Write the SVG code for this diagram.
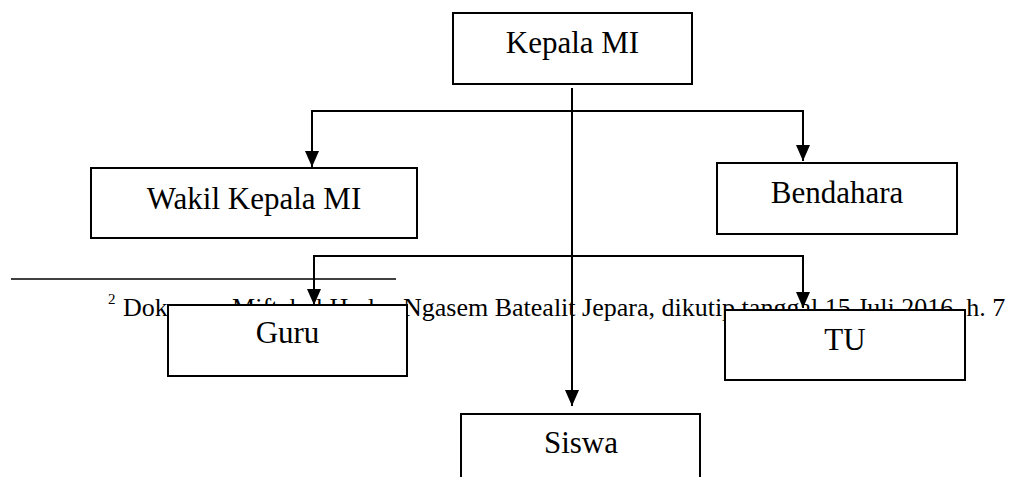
<svg xmlns="http://www.w3.org/2000/svg" width="1021" height="477" viewBox="0 0 1021 477">
<defs>
<style>
.box{fill:#fff;stroke:#000;stroke-width:2}
.lbl{font-family:"Liberation Serif","Times New Roman",serif;font-size:31px;fill:#000;text-anchor:middle}
.fn{font-family:"Liberation Serif","Times New Roman",serif;font-size:26px;fill:#000}
.ln{fill:none;stroke:#000;stroke-width:2}
</style>
<marker id="ah" viewBox="0 0 16 14" refX="16" refY="7" markerWidth="16" markerHeight="14" markerUnits="userSpaceOnUse" orient="auto-start-reverse">
<path d="M0,0 L16,7 L0,14 Z" fill="#000"/>
</marker>
</defs>
<rect width="1021" height="477" fill="#fff"/>
<g id="footnote">
<line x1="11" y1="279" x2="396" y2="279" stroke="#000" stroke-width="1.5"/>
<text class="fn" x="108" y="304" style="font-size:15px">2</text>
<text class="fn" y="316"><tspan x="123">Dokumen Miftahul Huda </tspan><tspan x="403">Ngasem Batealit Jepara, dikutip tanggal 15 Juli 2016. h. 7</tspan></text>
</g>
<g id="kepala"><rect class="box" x="453" y="13" width="239" height="71"/><text class="lbl" x="572.5" y="53">Kepala MI</text></g>
<g id="wakil"><rect class="box" x="91" y="168" width="326" height="70"/><text class="lbl" x="254" y="209">Wakil Kepala MI</text></g>
<g id="bendahara"><rect class="box" x="717" y="163" width="240" height="71"/><text class="lbl" x="837" y="203">Bendahara</text></g>
<g id="guru"><rect class="box" x="168" y="305" width="239" height="71"/><text class="lbl" x="287.5" y="343">Guru</text></g>
<g id="tu"><rect class="box" x="725" y="310" width="240" height="70"/><text class="lbl" x="845" y="350">TU</text></g>
<g id="siswa"><rect class="box" x="461" y="414" width="239" height="80"/><text class="lbl" x="581" y="453">Siswa</text></g>
<g id="connectors">
<line class="ln" x1="572" y1="88" x2="572" y2="406" marker-end="url(#ah)"/>
<polyline class="ln" points="312,167 312,111 803,111 803,161" marker-start="url(#ah)" marker-end="url(#ah)"/>
<polyline class="ln" points="314,305 314,256 803,256 803,308" marker-start="url(#ah)" marker-end="url(#ah)"/>
</g>
</svg>
